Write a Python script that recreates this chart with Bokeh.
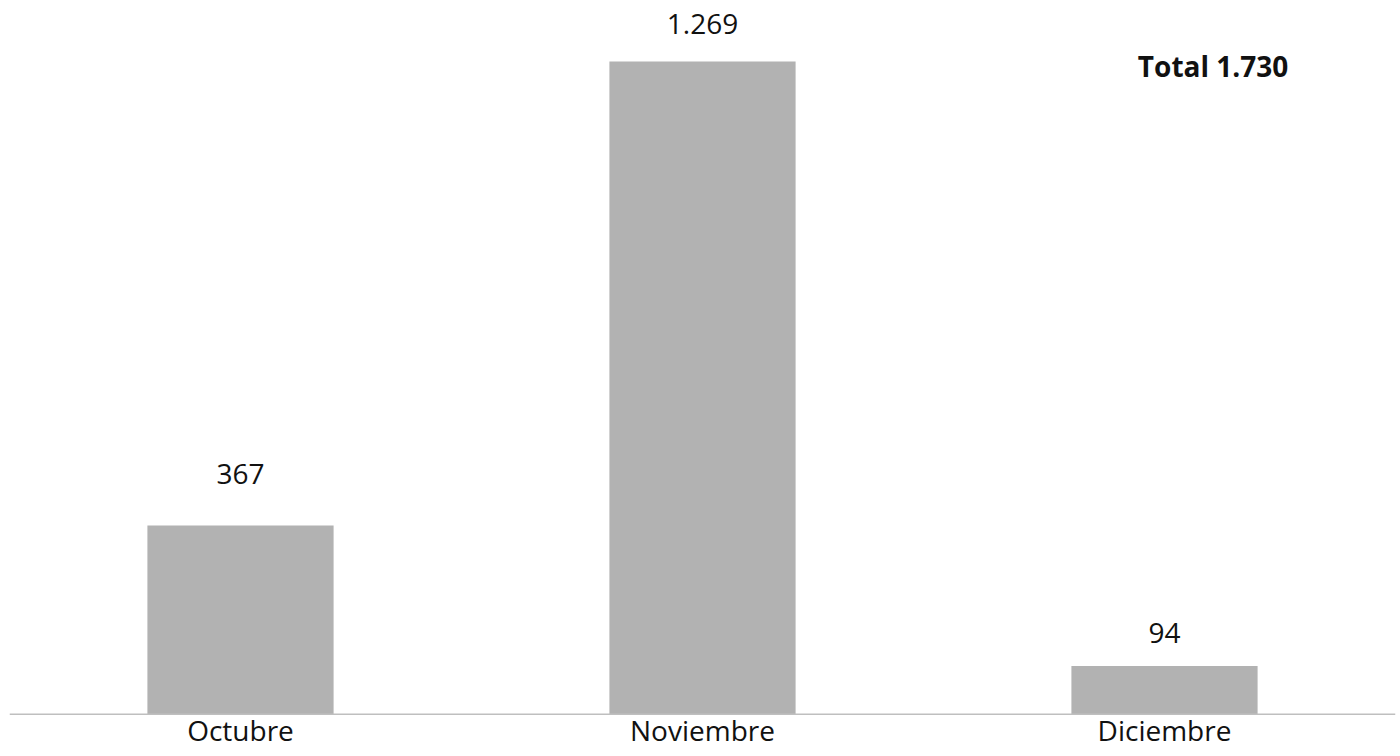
from bokeh.plotting import figure
from bokeh.models import ColumnDataSource, LabelSet, Label, FactorRange, Span
from bokeh.core.properties import value
from bokeh.embed import file_html
from bokeh.resources import INLINE

months = ["Octubre", "Noviembre", "Diciembre"]
values = [367, 1269, 94]
value_labels = ["367", "1.269", "94"]
total_label = "Total 1.730"

FONT = value("Open Sans")

# label distance above each bar top (px), as placed in the reference
label_offsets = [42, 28, 23]

src = ColumnDataSource(dict(month=months, value=values, label=value_labels,
                            zero=[0] * len(months), off=label_offsets))

p = figure(x_range=FactorRange(*months, range_padding=0), y_range=(-66.5, 1387.6),
           width=1400, height=748, output_backend="svg", toolbar_location=None,
           x_axis_location=None, y_axis_location=None,
           min_border_left=9, min_border_right=5, min_border_top=0, min_border_bottom=0)

p.vbar(x="month", top="value", width=0.403, source=src, color="#b2b2b2", line_color=None)

# baseline (category axis line)
p.add_layout(Span(location=0, dimension="width", line_color="#bfbfbf", line_width=1.5))

# category labels
p.add_layout(LabelSet(x="month", y="zero", text="month", source=src, y_offset=-27,
                      text_align="center", text_baseline="alphabetic",
                      text_font=FONT, text_font_size="28px", text_color="#111111"))

# value labels
p.add_layout(LabelSet(x="month", y="value", text="label", source=src, y_offset="off",
                      text_align="center", text_baseline="alphabetic",
                      text_font=FONT, text_font_size="28px", text_color="#111111"))

p.add_layout(Label(x=2.768, y=1261, text=total_label, text_align="right",
                   text_baseline="alphabetic", text_font="Open Sans", text_font_size="28px",
                   text_font_style="bold", text_color="#111111"))

p.xgrid.visible = False
p.ygrid.visible = False
p.outline_line_color = None

open("out.html", "w").write(file_html(p, INLINE))
